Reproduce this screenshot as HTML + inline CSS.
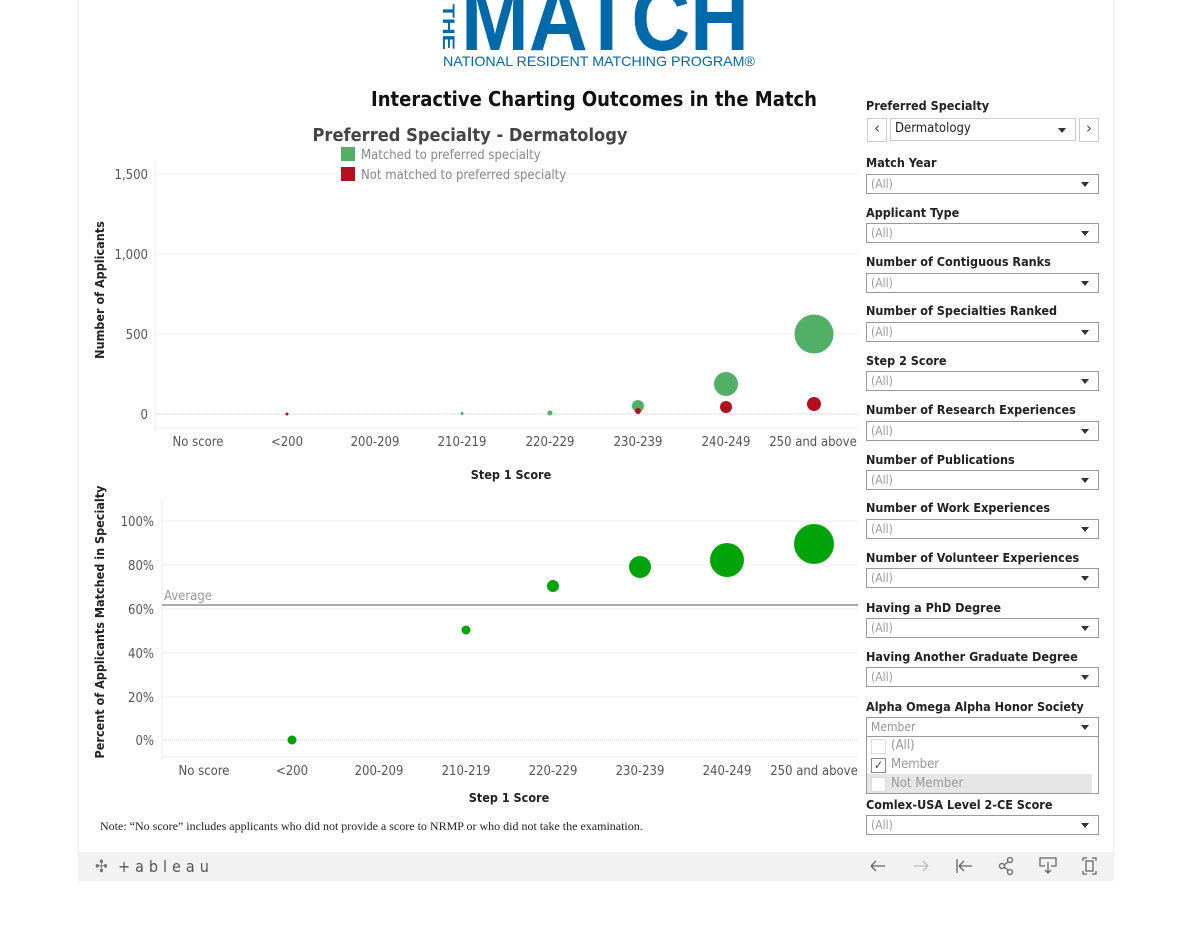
<!DOCTYPE html>
<html><head><meta charset="utf-8"><style>
body{margin:0;width:1200px;height:930px;background:#fff;overflow:hidden;font-family:"DejaVu Sans","Liberation Sans",sans-serif}
.f{position:absolute;left:866px;font-size:12.5px;font-weight:bold;color:#222;font-family:"DejaVu Sans Condensed","DejaVu Sans",sans-serif}
.b{position:absolute;left:866px;width:231px;height:18px;border:1px solid #999;background:#fff;font-size:12px;color:#999;font-family:"DejaVu Sans Condensed","DejaVu Sans",sans-serif;box-sizing:content-box}
.b span{position:absolute;left:4px;top:2px}
.b i{position:absolute;right:9px;top:7px;border-left:4px solid transparent;border-right:4px solid transparent;border-top:5px solid #333}
</style></head><body>
<div style="position:absolute;left:78px;top:0;width:1034px;height:880px;background:#fff;border-left:1px solid #f0f0f0;border-right:1px solid #f0f0f0"></div>
<svg width="1200" height="930" style="position:absolute;left:0;top:0" font-family="DejaVu Sans Condensed, DejaVu Sans, sans-serif">
<!-- logo -->
<text x="0" y="0" font-size="17" font-weight="bold" fill="#0069aa" transform="translate(443 4) rotate(90)" font-family="Liberation Sans" textLength="46" lengthAdjust="spacingAndGlyphs">THE</text>
<text x="461" y="50" font-size="92" font-weight="bold" fill="#0069aa" font-family="Liberation Sans" textLength="288" lengthAdjust="spacingAndGlyphs">MATCH</text>
<text x="443" y="66" font-size="14" fill="#0069aa" font-family="Liberation Sans" textLength="312" lengthAdjust="spacingAndGlyphs">NATIONAL RESIDENT MATCHING PROGRAM®</text>
<text x="594" y="106" font-size="20" font-weight="bold" fill="#111" text-anchor="middle" textLength="446" lengthAdjust="spacingAndGlyphs">Interactive Charting Outcomes in the Match</text>
<text x="470" y="141" font-size="18" font-weight="bold" fill="#444" text-anchor="middle" textLength="315" lengthAdjust="spacingAndGlyphs">Preferred Specialty - Dermatology</text>
<!-- chart 1 -->
<g stroke="#eee"><line x1="155" y1="174" x2="858" y2="174"/><line x1="155" y1="254" x2="858" y2="254"/><line x1="155" y1="334" x2="858" y2="334"/></g>
<line x1="155" y1="414" x2="858" y2="414" stroke="#ccc" stroke-dasharray="1,1"/>
<line x1="155" y1="160" x2="155" y2="430" stroke="#eee"/>
<line x1="155" y1="428" x2="858" y2="428" stroke="#eee"/>
<rect x="341" y="147" width="14" height="14" fill="#52b066"/><text x="361" y="159" font-size="13" fill="#888">Matched to preferred specialty</text>
<rect x="341" y="167" width="14" height="14" fill="#b50e1e"/><text x="361" y="179" font-size="13" fill="#888">Not matched to preferred specialty</text>
<g font-size="13" fill="#555" text-anchor="end"><text x="148" y="179">1,500</text><text x="148" y="259">1,000</text><text x="148" y="339">500</text><text x="148" y="419">0</text></g>
<text transform="translate(104 290) rotate(-90)" font-size="12.5" font-weight="bold" fill="#222" text-anchor="middle">Number of Applicants</text>
<g font-size="13" fill="#555" text-anchor="middle"><text x="198" y="446">No score</text><text x="287" y="446">&lt;200</text><text x="375" y="446">200-209</text><text x="462" y="446">210-219</text><text x="550" y="446">220-229</text><text x="638" y="446">230-239</text><text x="726" y="446">240-249</text><text x="813" y="446">250 and above</text></g>
<text x="511" y="479" font-size="12.5" font-weight="bold" fill="#222" text-anchor="middle">Step 1 Score</text>
<g fill="#52b066"><circle cx="814" cy="334" r="19.5"/><circle cx="726" cy="384" r="12"/><circle cx="638" cy="406" r="6"/><circle cx="550" cy="413" r="2.5"/><circle cx="462" cy="413.5" r="1.5"/></g>
<g fill="#b50e1e"><circle cx="638" cy="411" r="3"/><circle cx="726" cy="407" r="6"/><circle cx="814" cy="404" r="7"/><circle cx="287" cy="414" r="1.5"/></g>
<!-- chart 2 -->
<g stroke="#eee"><line x1="162" y1="521" x2="858" y2="521"/><line x1="162" y1="565" x2="858" y2="565"/><line x1="162" y1="609" x2="858" y2="609"/><line x1="162" y1="653" x2="858" y2="653"/><line x1="162" y1="697" x2="858" y2="697"/></g>
<line x1="162" y1="740" x2="858" y2="740" stroke="#ccc" stroke-dasharray="1,1"/>
<line x1="162" y1="500" x2="162" y2="760" stroke="#eee"/>
<line x1="162" y1="757" x2="858" y2="757" stroke="#eee"/>
<line x1="162" y1="605" x2="858" y2="605" stroke="#aaa" stroke-width="2"/>
<text x="164" y="600" font-size="13" fill="#999">Average</text>
<g font-size="13" fill="#555" text-anchor="end"><text x="154" y="526">100%</text><text x="154" y="570">80%</text><text x="154" y="614">60%</text><text x="154" y="658">40%</text><text x="154" y="702">20%</text><text x="154" y="745">0%</text></g>
<text transform="translate(104 622) rotate(-90)" font-size="12.5" font-weight="bold" fill="#222" text-anchor="middle">Percent of Applicants Matched in Specialty</text>
<g font-size="13" fill="#555" text-anchor="middle"><text x="204" y="775">No score</text><text x="292" y="775">&lt;200</text><text x="379" y="775">200-209</text><text x="466" y="775">210-219</text><text x="553" y="775">220-229</text><text x="640" y="775">230-239</text><text x="727" y="775">240-249</text><text x="814" y="775">250 and above</text></g>
<text x="509" y="802" font-size="12.5" font-weight="bold" fill="#222" text-anchor="middle">Step 1 Score</text>
<g fill="#00a40a"><circle cx="814" cy="544" r="20"/><circle cx="727" cy="560" r="17"/><circle cx="640" cy="567" r="11"/><circle cx="553" cy="586" r="6"/><circle cx="466" cy="630" r="4.5"/><circle cx="292" cy="740" r="4.5"/></g>
<text x="100" y="830" font-size="12" fill="#222" font-family="Liberation Serif">Note: “No score” includes applicants who did not provide a score to NRMP or who did not take the examination.</text>
<!-- footer -->
<rect x="78" y="852" width="1035" height="29" fill="#f2f2f2"/>
<text x="95" y="872" font-size="17" fill="#777">✣</text>
<text x="118" y="872" font-size="16" fill="#555" letter-spacing="5">+ableau</text>
<g stroke="#666" stroke-width="1.3" fill="none">
<path d="M871 866h14M871 866l5-5M871 866l5 5"/>
<path d="M914 866h14M928 866l-5-5M928 866l-5 5" stroke="#bbb"/>
<path d="M957 859v14M959 866h13M959 866l5-5M959 866l5 5"/>
<circle cx="1010" cy="860" r="2.5"/><circle cx="1002" cy="866" r="2.5"/><circle cx="1010" cy="872" r="2.5"/><path d="M1004 865l4-3M1004 867l4 3"/>
<path d="M1045 866h-5v-8h16v8h-5M1048 862v11M1045 870l3 3 3-3"/>
<path d="M1083 861v-3h4M1096 861v-3h-4M1083 871v3h4M1096 871v3h-4"/><rect x="1086" y="861" width="7" height="10"/>
</g>
</svg>
<div class="f" style="top:98px">Preferred Specialty</div>
<div style="position:absolute;left:867px;top:118px;width:18px;height:22px;border:1px solid #ccc;font-size:15px;text-align:center;color:#444">‹</div>
<div class="b" style="left:890px;top:118px;width:184px;height:21px;border-color:#ccc;color:#222;font-size:13px"><span>Dermatology</span><i style="top:9px"></i></div>
<div style="position:absolute;left:1079px;top:118px;width:18px;height:22px;border:1px solid #ccc;font-size:15px;text-align:center;color:#444">›</div>
<div class="f" style="top:155px">Match Year</div><div class="b" style="top:174px"><span>(All)</span><i></i></div>
<div class="f" style="top:205px">Applicant Type</div><div class="b" style="top:223px"><span>(All)</span><i></i></div>
<div class="f" style="top:254px">Number of Contiguous Ranks</div><div class="b" style="top:273px"><span>(All)</span><i></i></div>
<div class="f" style="top:303px">Number of Specialties Ranked</div><div class="b" style="top:322px"><span>(All)</span><i></i></div>
<div class="f" style="top:353px">Step 2 Score</div><div class="b" style="top:371px"><span>(All)</span><i></i></div>
<div class="f" style="top:402px">Number of Research Experiences</div><div class="b" style="top:421px"><span>(All)</span><i></i></div>
<div class="f" style="top:452px">Number of Publications</div><div class="b" style="top:470px"><span>(All)</span><i></i></div>
<div class="f" style="top:500px">Number of Work Experiences</div><div class="b" style="top:519px"><span>(All)</span><i></i></div>
<div class="f" style="top:550px">Number of Volunteer Experiences</div><div class="b" style="top:568px"><span>(All)</span><i></i></div>
<div class="f" style="top:600px">Having a PhD Degree</div><div class="b" style="top:618px"><span>(All)</span><i></i></div>
<div class="f" style="top:649px">Having Another Graduate Degree</div><div class="b" style="top:667px"><span>(All)</span><i></i></div>
<div class="f" style="top:699px">Alpha Omega Alpha Honor Society</div><div class="b" style="top:717px"><span>Member</span><i></i></div>
<div style="position:absolute;left:866px;top:737px;width:231px;height:56px;border:1px solid #999;border-top:none;background:#fff;font-size:13px;color:#999;font-family:'DejaVu Sans Condensed',sans-serif">
<div style="position:absolute;left:0;top:37px;width:225px;height:19px;background:#e6e6e6"></div>
<div style="position:absolute;left:4px;top:2px;width:13px;height:13px;border:1px solid #ddd;background:#fff"></div><div style="position:absolute;left:24px;top:1px">(All)</div>
<div style="position:absolute;left:4px;top:21px;width:13px;height:13px;border:1px solid #888;background:#fff;font-size:12px;line-height:13px;color:#444;text-align:center">✓</div><div style="position:absolute;left:24px;top:20px">Member</div>
<div style="position:absolute;left:4px;top:40px;width:13px;height:13px;border:1px solid #ddd;background:#fff"></div><div style="position:absolute;left:24px;top:39px">Not Member</div>
</div>
<div class="f" style="top:797px">Comlex-USA Level 2-CE Score</div><div class="b" style="top:815px"><span>(All)</span><i></i></div>
</body></html>
